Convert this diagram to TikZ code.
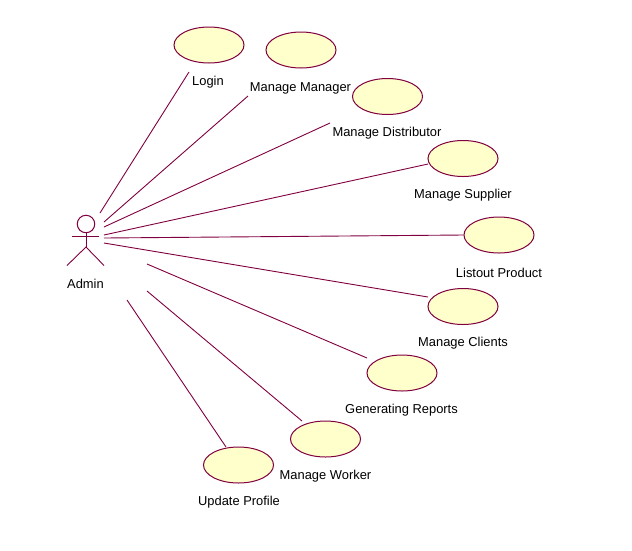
\documentclass[tikz,border=0pt]{standalone}
\usepackage{fontspec}
\setmainfont{Liberation Sans}
\usetikzlibrary{shapes.geometric}
\definecolor{umlline}{RGB}{128,0,64}
\definecolor{umlfill}{RGB}{255,255,203}
\tikzset{
  usecase/.style={ellipse,draw=umlline,fill=umlfill,line width=1pt,minimum width=70pt,minimum height=36pt,inner sep=0pt},
  caption/.style={font=\fontsize{12.9}{14}\selectfont,inner sep=0pt,text=black},
  assoc/.style={draw=umlline,line width=.9pt}
}
\begin{document}
\begin{tikzpicture}[x=1pt,y=-1pt]
  \useasboundingbox (0,0) rectangle (632,550);
  % use cases
  \node[usecase] (login) at (209,45) {};
  \node[usecase] (manager) at (301,50) {};
  \node[usecase] (distributor) at (387.5,96.5) {};
  \node[usecase] (supplier) at (463,158.5) {};
  \node[usecase] (product) at (499,235) {};
  \node[usecase] (clients) at (463,306.5) {};
  \node[usecase] (reports) at (402,373) {};
  \node[usecase] (worker) at (325.5,439) {};
  \node[usecase] (update) at (238.5,465) {};
  % captions
  \node[caption] (loginText) at (208,82) {Login};
  \node[caption] (managerText) at (300.5,88) {Manage Manager};
  \node[caption] (distributorText) at (387,133.5) {Manage Distributor};
  \node[caption] (supplierText) at (463,195.5) {Manage Supplier};
  \node[caption] (productText) at (499,272.5) {Listout Product};
  \node[caption] (clientsText) at (463,343.5) {Manage Clients};
  \node[caption] (reportsText) at (401.5,410.5) {Generating Reports};
  \node[caption] (workerText) at (325.5,476.5) {Manage Worker};
  \node[caption] (updateText) at (239,502.5) {Update Profile};
  % actor
  \node[circle,draw=umlline,line width=1pt,minimum size=17.5pt,inner sep=0pt] (head) at (86,224) {};
  \coordinate (armL) at (72,236.5);
  \coordinate (armR) at (99,236.5);
  \coordinate (hip) at (86,247);
  \coordinate (footL) at (67,265.5);
  \coordinate (footR) at (104,265.5);
  \draw[assoc] (armL) -- (armR);
  \draw[assoc] (head) -- (hip);
  \draw[assoc] (footL) -- (hip) -- (footR);
  \node[caption] (admin) at (85.5,284) {Admin};
  % associations
  \coordinate (a1) at (100,213);  \coordinate (b1) at (189,72);
  \coordinate (a2) at (104,222);  \coordinate (b2) at (248,96);
  \coordinate (a3) at (104,227);  \coordinate (b3) at (330,123);
  \coordinate (a4) at (104,235);  \coordinate (b4) at (428,164);
  \coordinate (a5) at (104,238);  \coordinate (b5) at (product.west);
  \coordinate (a6) at (104,243);  \coordinate (b6) at (428,297);
  \coordinate (a7) at (147,264);  \coordinate (b7) at (367,358);
  \coordinate (a8) at (147,291);  \coordinate (b8) at (302,421);
  \coordinate (a9) at (127,300);  \coordinate (b9) at (226,447);
  \foreach \i in {1,...,9}
    \draw[assoc] (a\i) -- (b\i);
\end{tikzpicture}
\end{document}
